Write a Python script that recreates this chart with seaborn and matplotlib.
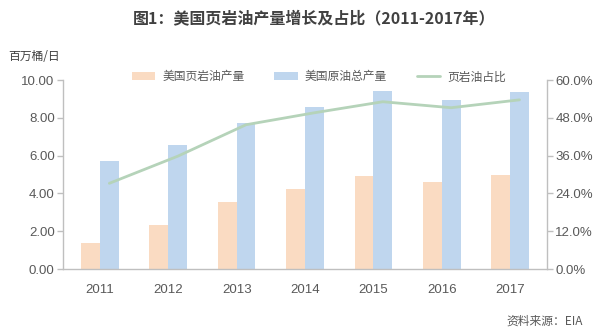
import matplotlib
matplotlib.use("Agg")
import matplotlib.pyplot as plt
import seaborn as sns
import pandas as pd
import numpy as np
from matplotlib.lines import Line2D
from matplotlib.patches import Patch
from matplotlib.ticker import FuncFormatter, MultipleLocator

years = ["2011", "2012", "2013", "2014", "2015", "2016", "2017"]
shale_output = [1.36, 2.34, 3.56, 4.22, 4.90, 4.62, 4.97]      # 百万桶/日
total_output = [5.71, 6.54, 7.74, 8.59, 9.43, 8.92, 9.35]      # 百万桶/日
shale_share = [27.2, 35.8, 45.8, 49.6, 53.1, 51.2, 53.7]       # %

series_names = ["美国页岩油产量", "美国原油总产量", "页岩油占比"]
colors = {"美国页岩油产量": "#FADBC2", "美国原油总产量": "#BFD6EE"}
line_color = "#B5D3B9"

sns.set_theme(style="white")
plt.rcParams["font.family"] = ["Liberation Sans", "Noto Sans CJK SC", "DejaVu Sans"]
cjk = ["Noto Sans CJK SC", "DejaVu Sans"]

df = pd.DataFrame({
    "year": years * 2,
    "value": shale_output + total_output,
    "series": [series_names[0]] * len(years) + [series_names[1]] * len(years),
})

fig = plt.figure(figsize=(6.0, 3.36), dpi=100)
ax = fig.add_axes([0.105, 0.1994, 0.8067, 0.5625])

bar_width = 0.55
sns.barplot(data=df, x="year", y="value", hue="series", palette=colors,
            width=bar_width, dodge=True, ax=ax, legend=False,
            saturation=1, linewidth=0)

ax.set_xlim(-0.54, len(years) - 1 + 0.54)
ax.set_ylim(0, 10)
ax.yaxis.set_major_locator(MultipleLocator(2))
ax.yaxis.set_major_formatter(FuncFormatter(lambda v, p: f"{v:.2f}"))
ax.set_xlabel("")
ax.set_ylabel("")

# share line sits over the total-output bars
ax2 = ax.twinx()
x_line = np.arange(len(years)) + bar_width / 4
sns.lineplot(x=x_line, y=shale_share, ax=ax2, color=line_color, linewidth=2.0,
             legend=False)
ax2.set_ylim(0, 60)
ax2.yaxis.set_major_locator(MultipleLocator(12))
ax2.yaxis.set_major_formatter(FuncFormatter(lambda v, p: f"{v:.1f}%"))
ax2.set_ylabel("")
ax2.set_xlim(ax.get_xlim())

spine_color = "#BFBFBF"
tick_color = "#595959"
for a in (ax, ax2):
    for s in a.spines.values():
        s.set_visible(False)
ax.spines["left"].set_visible(True)
ax.spines["bottom"].set_visible(True)
ax2.spines["right"].set_visible(True)
for s in (ax.spines["left"], ax.spines["bottom"], ax2.spines["right"]):
    s.set_color(spine_color)
    s.set_linewidth(1.0)

ax.tick_params(axis="y", left=True, length=4, width=1, color=spine_color,
               labelsize=9.5, labelcolor=tick_color, pad=2)
ax.tick_params(axis="x", bottom=False, labelsize=9.5, labelcolor=tick_color, pad=5)
ax2.tick_params(axis="y", right=True, length=4, width=1, color=spine_color,
                labelsize=9.5, labelcolor=tick_color, pad=2)
ax.grid(False)
ax2.grid(False)

handles = [
    Patch(facecolor=colors[series_names[0]], edgecolor="none"),
    Patch(facecolor=colors[series_names[1]], edgecolor="none"),
    Line2D([0], [0], color=line_color, linewidth=2.0),
]
leg = ax2.legend(handles, series_names, loc="center",
                 bbox_to_anchor=(0.529, 1.016), ncol=3, frameon=False,
                 prop={"family": cjk, "size": 8.5}, handlelength=2.0,
                 handleheight=0.7, columnspacing=2.5, handletextpad=0.6,
                 borderpad=0.2)
for t in leg.get_texts():
    t.set_color(tick_color)

fig.text(0.523, 0.945, "图1：美国页岩油产量增长及占比（2011-2017年）", ha="center",
         va="center", fontsize=11.5, fontweight="bold", color="#404040", family=cjk)
fig.text(0.013, 0.831, "百万桶/日", ha="left", va="center", fontsize=8.5,
         color="#404040", family=cjk)
fig.text(0.972, 0.045, "资料来源：EIA", ha="right", va="center", fontsize=8.5,
         color=tick_color, family=cjk)

fig.savefig("out.png", dpi=100, facecolor="white")
